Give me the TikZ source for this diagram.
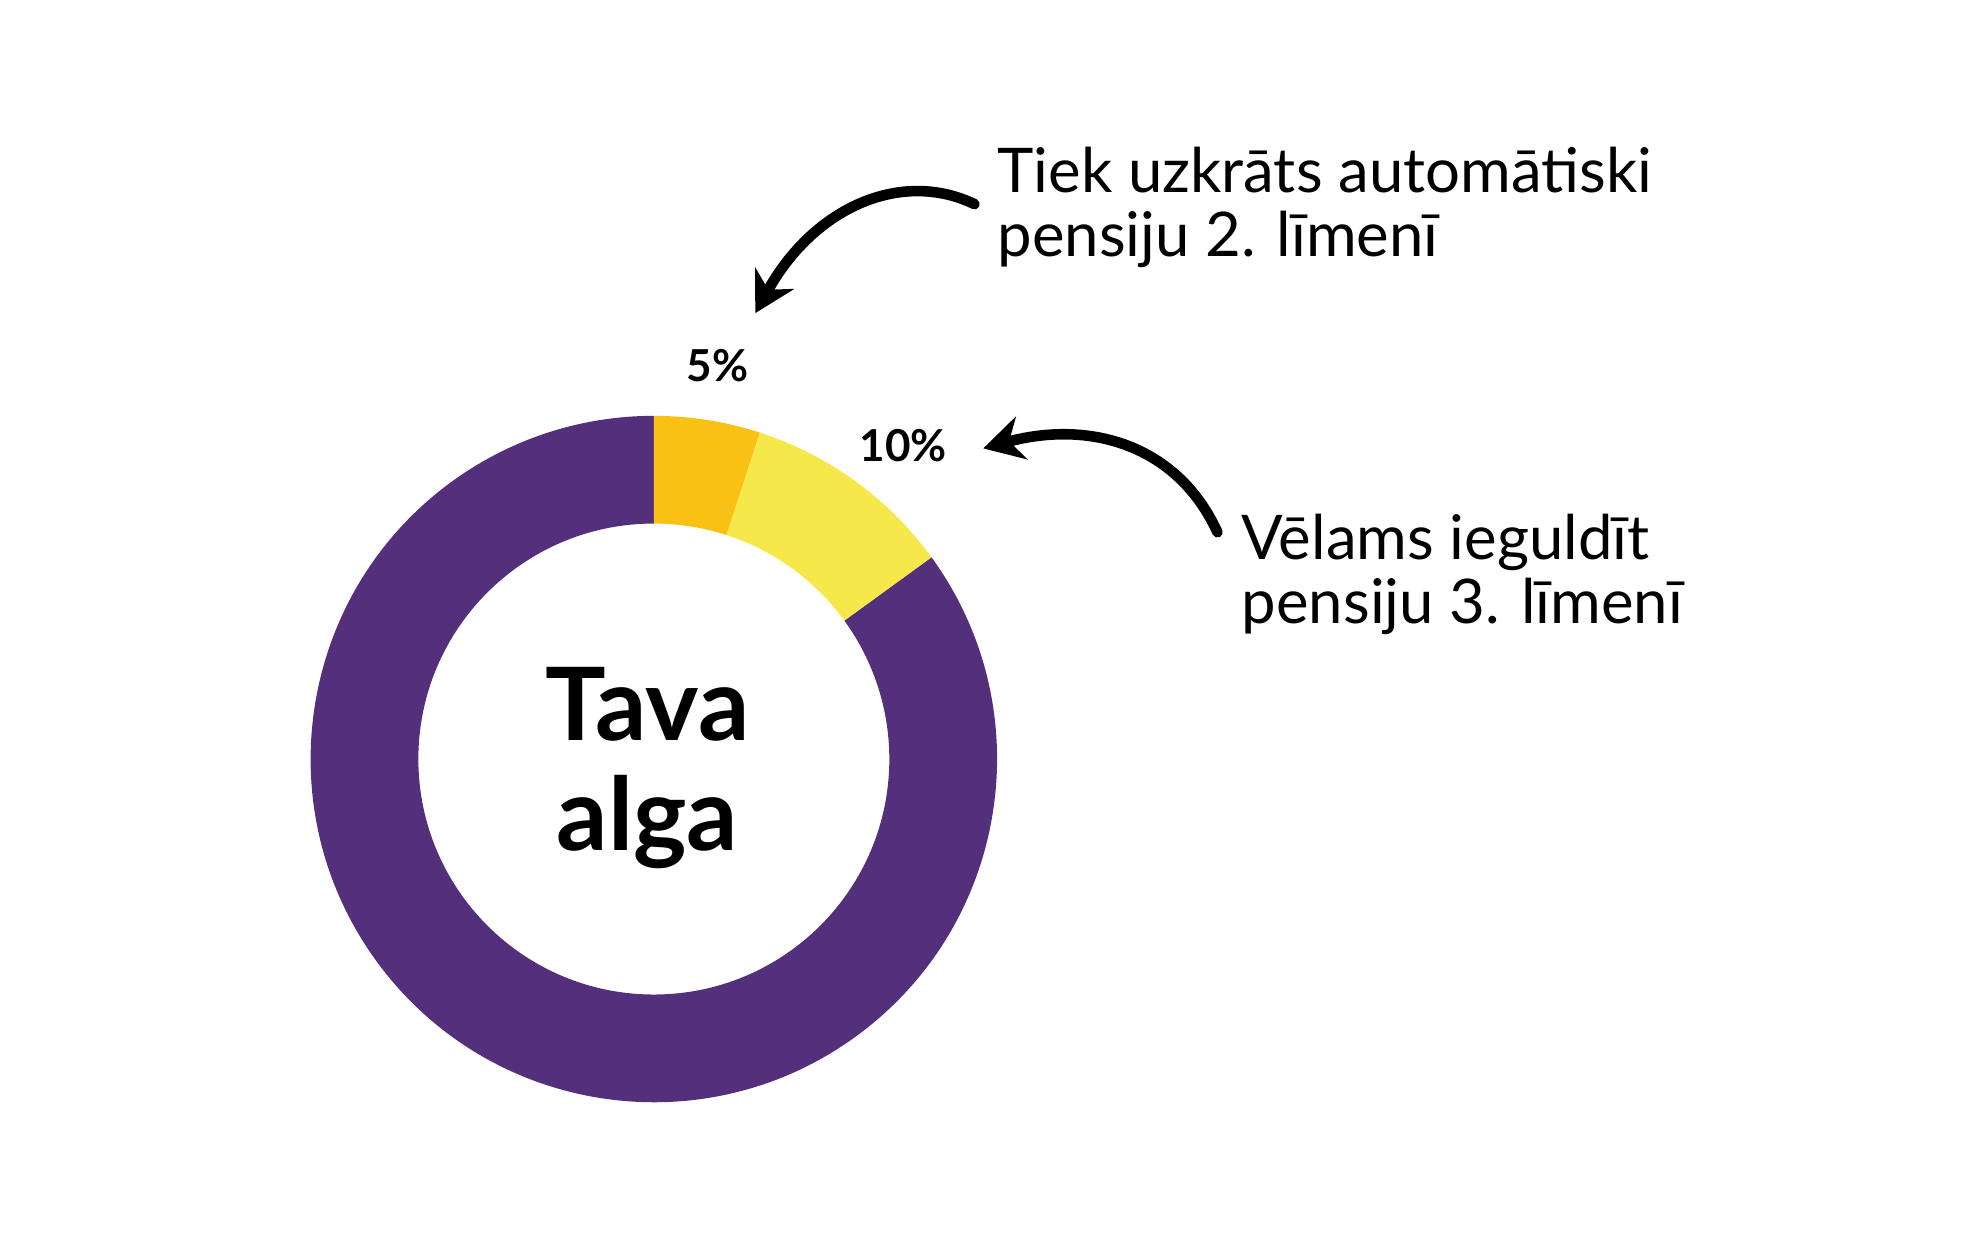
\documentclass[tikz,border=0pt]{standalone}
\usepackage{fontspec}
\setmainfont{Lato}
\usetikzlibrary{arrows.meta,calc}
\definecolor{ringpurple}{HTML}{54307C}
\definecolor{ringorange}{HTML}{FAC115}
\definecolor{ringyellow}{HTML}{F6E84A}
\tikzset{
  note/.style={anchor=north west,align=left,font=\fontsize{14}{14.5}\selectfont},
  pct/.style={font=\fontsize{10}{12}\selectfont\bfseries},
  hand/.style={line width=2.4pt,line cap=round,-{Stealth[length=9pt,width=10pt]}}
}
\begin{document}
\begin{tikzpicture}
  \useasboundingbox (0,0) rectangle (15.68,10.05);
  \coordinate (c) at (5.22,3.99);
  % donut slices
  \fill[ringpurple] ($(c)+(36:2.74)$) arc[start angle=36,end angle=-270,radius=2.74]
    -- ($(c)+(90:1.88)$) arc[start angle=-270,end angle=36,radius=1.88] -- cycle;
  \fill[ringorange] ($(c)+(90:2.74)$) arc[start angle=90,end angle=72,radius=2.74]
    -- ($(c)+(72:1.88)$) arc[start angle=72,end angle=90,radius=1.88] -- cycle;
  \fill[ringyellow] ($(c)+(72:2.74)$) arc[start angle=72,end angle=36,radius=2.74]
    -- ($(c)+(36:1.88)$) arc[start angle=36,end angle=72,radius=1.88] -- cycle;
  \node[font=\fontsize{23}{25}\selectfont\bfseries,align=center] (salary) at (5.17,3.92) {Tava\\alga};
  \node[pct] (p5) at (5.73,7.13) {5\%};
  \node[pct] (p10) at (7.21,6.49) {10\%};
  \node[note] (second) at (7.84,9.00) {Tiek uzkrāts automātiski\\pensiju 2. līmenī};
  \node[note] (third) at (9.79,6.07) {Vēlams ieguldīt\\pensiju 3. līmenī};
  \coordinate (a1) at (7.78,8.42);
  \coordinate (a2) at (9.72,5.80);
  \draw[hand] (a1) .. controls (7.2,8.70) and (6.5,8.40) .. (6.03,7.55);
  \draw[hand] (a2) .. controls (9.4,6.50) and (8.7,6.70) .. (7.85,6.47);
\end{tikzpicture}
\end{document}
